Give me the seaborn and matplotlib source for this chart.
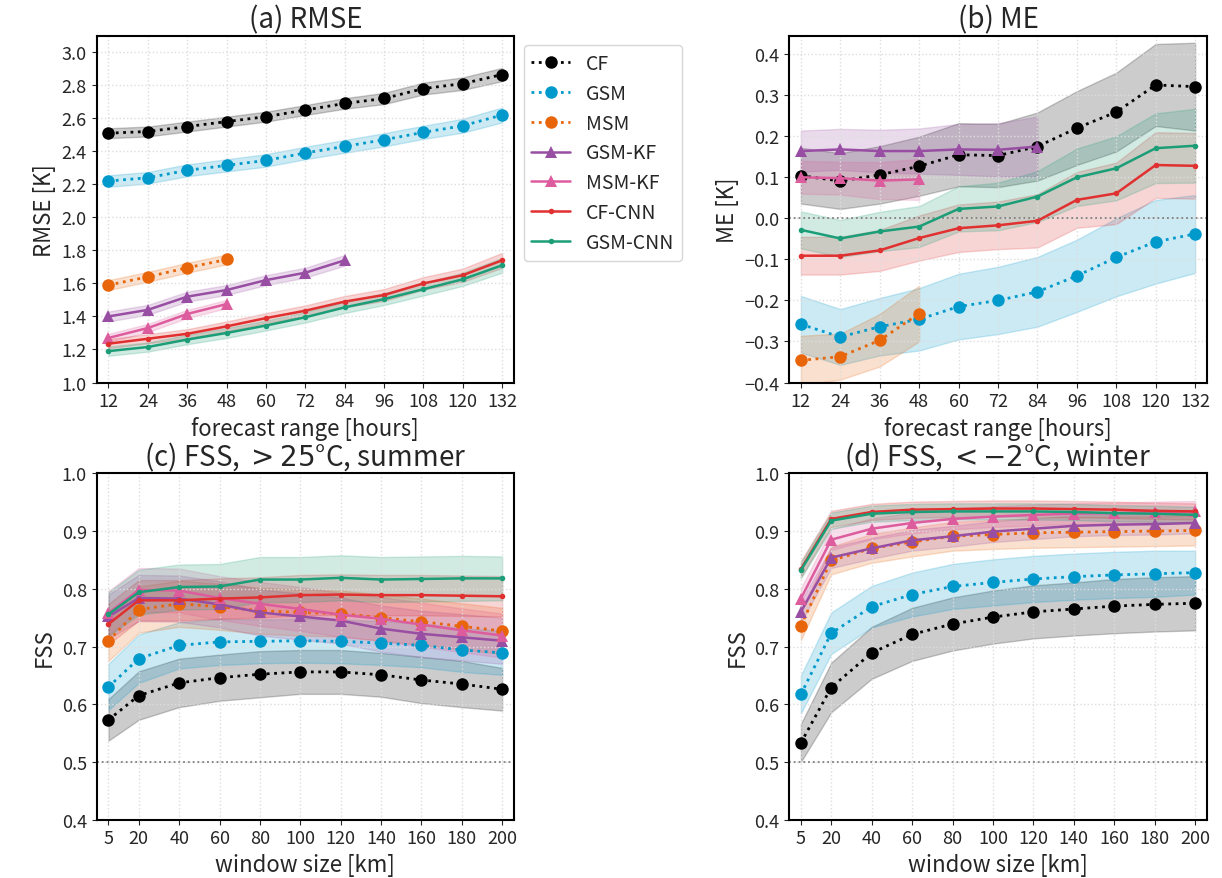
import matplotlib
matplotlib.use("Agg")
import matplotlib.pyplot as plt
import numpy as np
import seaborn as sns

sns.set_style("ticks")
plt.rcParams["font.family"] = ["Noto Sans CJK JP", "DejaVu Sans"]
plt.rcParams["axes.unicode_minus"] = True

hours = [12, 24, 36, 48, 60, 72, 84, 96, 108, 120, 132]
window_km = [5, 20, 40, 60, 80, 100, 120, 140, 160, 180, 200]
series_names = ["CF", "GSM", "MSM", "GSM-KF", "MSM-KF", "CF-CNN", "GSM-CNN"]

# (a) RMSE [K]
rmse_mean = {
    "CF": [2.51, 2.52, 2.55, 2.58, 2.61, 2.65, 2.69, 2.72, 2.78, 2.81, 2.865],
    "GSM": [2.22, 2.24, 2.285, 2.315, 2.345, 2.39, 2.43, 2.47, 2.515, 2.555, 2.62],
    "MSM": [1.59, 1.64, 1.695, 1.745],
    "GSM-KF": [1.40, 1.44, 1.52, 1.56, 1.62, 1.665, 1.74],
    "MSM-KF": [1.27, 1.33, 1.415, 1.475],
    "CF-CNN": [1.235, 1.265, 1.295, 1.34, 1.39, 1.435, 1.49, 1.53, 1.60, 1.65, 1.74],
    "GSM-CNN": [1.19, 1.215, 1.26, 1.30, 1.345, 1.395, 1.455, 1.505, 1.565, 1.625, 1.71],
}
rmse_spread = {
    "CF": [0.03, 0.03, 0.03, 0.03, 0.03, 0.03, 0.032, 0.034, 0.036, 0.038, 0.04],
    "GSM": [0.035, 0.035, 0.036, 0.037, 0.038, 0.038, 0.039, 0.04, 0.04, 0.042, 0.045],
    "MSM": [0.03, 0.03, 0.03, 0.03],
    "GSM-KF": [0.03, 0.03, 0.03, 0.03, 0.03, 0.03, 0.032],
    "MSM-KF": [0.025, 0.025, 0.025, 0.025],
    "CF-CNN": [0.028, 0.028, 0.028, 0.03, 0.03, 0.032, 0.034, 0.036, 0.038, 0.04, 0.045],
    "GSM-CNN": [0.028, 0.028, 0.028, 0.03, 0.03, 0.032, 0.034, 0.036, 0.038, 0.04, 0.045],
}

# (b) ME [K]
me_mean = {
    "CF": [0.104, 0.091, 0.106, 0.127, 0.155, 0.153, 0.175, 0.220, 0.259, 0.325, 0.321],
    "GSM": [-0.258, -0.289, -0.264, -0.246, -0.215, -0.200, -0.179, -0.140, -0.095, -0.057, -0.038],
    "MSM": [-0.346, -0.337, -0.297, -0.232],
    "GSM-KF": [0.164, 0.168, 0.164, 0.164, 0.168, 0.167, 0.175],
    "MSM-KF": [0.100, 0.098, 0.092, 0.095],
    "CF-CNN": [-0.091, -0.091, -0.078, -0.048, -0.024, -0.017, -0.006, 0.045, 0.061, 0.130, 0.128],
    "GSM-CNN": [-0.028, -0.049, -0.032, -0.020, 0.023, 0.029, 0.053, 0.100, 0.122, 0.171, 0.177],
}
me_spread = {
    "CF": [0.068, 0.068, 0.07, 0.072, 0.077, 0.077, 0.083, 0.09, 0.096, 0.10, 0.107],
    "GSM": [0.069, 0.068, 0.07, 0.076, 0.08, 0.082, 0.085, 0.088, 0.095, 0.102, 0.095],
    "MSM": [0.06, 0.056, 0.064, 0.068],
    "GSM-KF": [0.05, 0.05, 0.052, 0.055, 0.062, 0.065, 0.073],
    "MSM-KF": [0.04, 0.04, 0.045, 0.05],
    "CF-CNN": [0.046, 0.046, 0.05, 0.055, 0.058, 0.058, 0.065, 0.068, 0.075, 0.08, 0.08],
    "GSM-CNN": [0.045, 0.045, 0.048, 0.05, 0.055, 0.058, 0.062, 0.07, 0.078, 0.085, 0.09],
}

# (c) FSS, > 25 degC, summer
fss_summer_mean = {
    "CF": [0.573, 0.615, 0.637, 0.646, 0.652, 0.656, 0.656, 0.651, 0.642, 0.635, 0.626],
    "GSM": [0.630, 0.679, 0.702, 0.708, 0.709, 0.710, 0.709, 0.706, 0.702, 0.694, 0.689],
    "MSM": [0.710, 0.764, 0.774, 0.769, 0.762, 0.759, 0.757, 0.750, 0.743, 0.735, 0.727],
    "GSM-KF": [0.752, 0.784, 0.783, 0.773, 0.759, 0.752, 0.745, 0.731, 0.722, 0.716, 0.710],
    "MSM-KF": [0.758, 0.798, 0.797, 0.784, 0.774, 0.765, 0.755, 0.748, 0.738, 0.728, 0.719],
    "CF-CNN": [0.739, 0.780, 0.780, 0.783, 0.785, 0.789, 0.790, 0.789, 0.789, 0.788, 0.787],
    "GSM-CNN": [0.756, 0.794, 0.803, 0.804, 0.816, 0.816, 0.819, 0.816, 0.817, 0.818, 0.818],
}
fss_summer_spread = {
    "CF": [0.036, 0.042, 0.042, 0.04, 0.04, 0.038, 0.038, 0.038, 0.04, 0.04, 0.037],
    "GSM": [0.04, 0.042, 0.04, 0.04, 0.038, 0.038, 0.038, 0.038, 0.038, 0.038, 0.038],
    "MSM": [0.035, 0.04, 0.04, 0.04, 0.04, 0.04, 0.04, 0.04, 0.04, 0.04, 0.04],
    "GSM-KF": [0.038, 0.04, 0.04, 0.04, 0.04, 0.04, 0.04, 0.04, 0.04, 0.04, 0.04],
    "MSM-KF": [0.038, 0.038, 0.038, 0.038, 0.038, 0.038, 0.038, 0.038, 0.038, 0.038, 0.038],
    "CF-CNN": [0.035, 0.035, 0.035, 0.035, 0.035, 0.035, 0.035, 0.035, 0.035, 0.035, 0.035],
    "GSM-CNN": [0.038, 0.039, 0.039, 0.039, 0.039, 0.039, 0.039, 0.039, 0.039, 0.039, 0.038],
}

# (d) FSS, < -2 degC, winter
fss_winter_mean = {
    "CF": [0.533, 0.629, 0.689, 0.721, 0.739, 0.751, 0.760, 0.765, 0.770, 0.773, 0.775],
    "GSM": [0.617, 0.723, 0.769, 0.790, 0.804, 0.811, 0.817, 0.821, 0.824, 0.826, 0.828],
    "MSM": [0.736, 0.849, 0.870, 0.881, 0.891, 0.894, 0.897, 0.898, 0.899, 0.900, 0.901],
    "GSM-KF": [0.760, 0.854, 0.870, 0.884, 0.891, 0.899, 0.904, 0.909, 0.911, 0.912, 0.914],
    "MSM-KF": [0.783, 0.885, 0.904, 0.914, 0.921, 0.925, 0.928, 0.930, 0.931, 0.933, 0.934],
    "CF-CNN": [0.834, 0.921, 0.933, 0.937, 0.938, 0.939, 0.939, 0.938, 0.937, 0.935, 0.934],
    "GSM-CNN": [0.832, 0.918, 0.930, 0.933, 0.934, 0.934, 0.934, 0.933, 0.931, 0.930, 0.928],
}
fss_winter_spread = {
    "CF": [0.033, 0.043, 0.045, 0.046, 0.046, 0.046, 0.046, 0.046, 0.047, 0.047, 0.047],
    "GSM": [0.033, 0.036, 0.036, 0.038, 0.039, 0.04, 0.04, 0.04, 0.04, 0.04, 0.038],
    "MSM": [0.025, 0.024, 0.025, 0.025, 0.025, 0.025, 0.026, 0.026, 0.026, 0.026, 0.026],
    "GSM-KF": [0.018, 0.018, 0.018, 0.018, 0.018, 0.018, 0.018, 0.018, 0.018, 0.018, 0.018],
    "MSM-KF": [0.018, 0.018, 0.018, 0.018, 0.018, 0.018, 0.018, 0.018, 0.018, 0.018, 0.018],
    "CF-CNN": [0.014, 0.014, 0.014, 0.014, 0.014, 0.014, 0.014, 0.014, 0.014, 0.014, 0.014],
    "GSM-CNN": [0.014, 0.014, 0.014, 0.014, 0.014, 0.014, 0.014, 0.014, 0.014, 0.014, 0.014],
}

colors = {
    "CF": "black",
    "GSM": "#0099cc",
    "MSM": "#e8650a",
    "GSM-KF": "#984ea3",
    "MSM-KF": "#dd5c9e",
    "CF-CNN": "#e03030",
    "GSM-CNN": "#1b9e77",
}
line_styles = {
    "CF": dict(linestyle=":", marker="o", markersize=9, linewidth=2),
    "GSM": dict(linestyle=":", marker="o", markersize=9, linewidth=2),
    "MSM": dict(linestyle=":", marker="o", markersize=9, linewidth=2),
    "GSM-KF": dict(linestyle="-", marker="^", markersize=9, linewidth=1.8),
    "MSM-KF": dict(linestyle="-", marker="^", markersize=9, linewidth=1.8),
    "CF-CNN": dict(linestyle="-", marker="o", markersize=4, linewidth=1.8),
    "GSM-CNN": dict(linestyle="-", marker="o", markersize=4, linewidth=1.8),
}


def draw_panel(ax, x, means, spreads):
    for name in series_names:
        y = np.asarray(means[name])
        s = np.asarray(spreads[name])
        xs = np.asarray(x[: len(y)])
        c = colors[name]
        ax.fill_between(xs, y - s, y + s, color=c, alpha=0.2)
        sns.lineplot(x=xs, y=y, ax=ax, color=c, label=name, errorbar=None,
                     markeredgewidth=0, markeredgecolor=c, **line_styles[name])
    if ax.get_legend() is not None:
        ax.get_legend().remove()
    ax.grid(True, linestyle=":", color="#dddddd", linewidth=1)
    ax.set_axisbelow("line")
    ax.tick_params(labelsize=13)
    for sp in ax.spines.values():
        sp.set_color("black")
        sp.set_linewidth(1.5)


fig = plt.figure(figsize=(12.22, 8.79), dpi=100)
ax_a = fig.add_axes([0.0791, 0.5637, 0.3415, 0.3945])
ax_b = fig.add_axes([0.6457, 0.5637, 0.342, 0.3945])
ax_c = fig.add_axes([0.0791, 0.0663, 0.3415, 0.3941])
ax_d = fig.add_axes([0.6457, 0.0663, 0.342, 0.3941])

draw_panel(ax_a, hours, rmse_mean, rmse_spread)
draw_panel(ax_b, hours, me_mean, me_spread)
draw_panel(ax_c, window_km, fss_summer_mean, fss_summer_spread)
draw_panel(ax_d, window_km, fss_winter_mean, fss_winter_spread)

ax_b.axhline(0, color="gray", linestyle=":", linewidth=1.3, zorder=1.6)
ax_c.axhline(0.5, color="gray", linestyle=":", linewidth=1.3, zorder=1.6)
ax_d.axhline(0.5, color="gray", linestyle=":", linewidth=1.3, zorder=1.6)

for ax in (ax_a, ax_b):
    ax.set_xticks(hours)
    ax.set_xlim(12 - 3.6, 132 + 3.6)
    ax.set_xlabel("forecast range [hours]", fontsize=16)
for ax in (ax_c, ax_d):
    ax.set_xticks(window_km)
    ax.set_xlim(5 - 5.85, 200 + 5.85)
    ax.set_ylim(0.4, 1.0)
    ax.set_yticks(np.arange(0.4, 1.01, 0.1))
    ax.set_xlabel("window size [km]", fontsize=16)
    ax.set_ylabel("FSS", fontsize=16)

ax_a.set_ylim(1.0, 3.1)
ax_a.set_yticks(np.arange(1.0, 3.01, 0.2))
ax_a.set_ylabel("RMSE [K]", fontsize=16)
ax_b.set_ylim(-0.4, 0.445)
ax_b.set_yticks(np.arange(-0.4, 0.41, 0.1))
ax_b.set_ylabel("ME [K]", fontsize=16)

ax_a.set_title("(a) RMSE", fontsize=20)
ax_b.set_title("(b) ME", fontsize=20)
ax_c.set_title("(c) FSS, $>25$°C, summer", fontsize=20)
ax_d.set_title("(d) FSS, $<-2$°C, winter", fontsize=20)

handles, labels = ax_a.get_legend_handles_labels()
ax_a.legend(handles, labels, loc="upper left", bbox_to_anchor=(1.0, 1.0),
            fontsize=14, labelspacing=0.45)

fig.savefig("out.png", dpi=100)
